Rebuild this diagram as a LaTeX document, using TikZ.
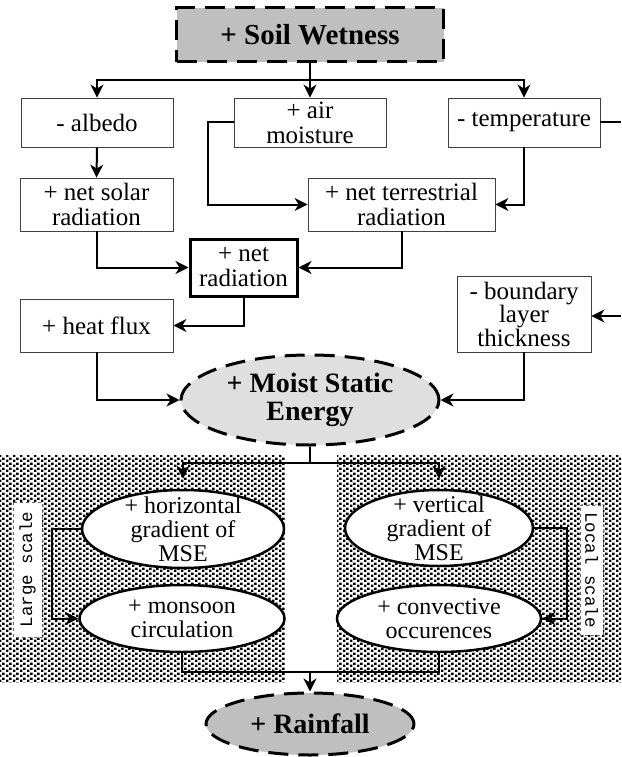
\documentclass[tikz,border=0pt]{standalone}
\usepackage{fontspec}
\setmainfont{Liberation Serif}
\setmonofont{Liberation Mono}
\usetikzlibrary{arrows.meta,patterns,shapes.geometric}
\pgfdeclarepatternformonly{halftone}{\pgfqpoint{0pt}{0pt}}{\pgfqpoint{7pt}{5pt}}{\pgfqpoint{7pt}{5pt}}{%
  \pgfpathrectangle{\pgfqpoint{0pt}{0pt}}{\pgfqpoint{2.8pt}{2.8pt}}%
  \pgfpathrectangle{\pgfqpoint{3.5pt}{2.5pt}}{\pgfqpoint{2.8pt}{2.8pt}}%
  \pgfusepath{fill}}
\begin{document}
\begin{tikzpicture}[x=1pt,y=-1pt,
  box/.style={draw=black!75, line width=0.8pt, fill=white, rectangle, inner sep=0pt, align=center, font=\fontsize{25}{25}\selectfont},
  thickbox/.style={box, draw=black, line width=3pt},
  oval/.style={ellipse, draw, line width=2.5pt, fill=white, inner sep=-14pt, align=center, font=\fontsize{24}{24}\selectfont},
  keybox/.style={rectangle, draw, line width=3pt, dash pattern=on 20pt off 10pt, fill=gray!50, inner sep=0pt, align=center, font=\bfseries\fontsize{29}{29}\selectfont},
  keyoval/.style={ellipse, draw, line width=3pt, dash pattern=on 20pt off 10pt, inner sep=-14pt, align=center, font=\bfseries\fontsize{28}{28}\selectfont},
  conn/.style={line width=2pt},
  arr/.style={conn, -{Stealth[length=13pt,width=13pt,inset=4pt]}},
  scalelbl/.style={draw=black!60, dashed, line width=0.5pt, fill=white, inner sep=0pt, font=\ttfamily\fontsize{17.5}{17.5}\selectfont}
]
\useasboundingbox (0,0) rectangle (621,757);
% dotted backgrounds
\fill[pattern=halftone] (0,455) rectangle (285,682);
\fill[pattern=halftone] (337,455) rectangle (621,682);

% nodes
\node[keybox, minimum width=267pt, minimum height=54pt] (soil) at (310,35) {+ Soil Wetness};
\node[box, minimum width=152pt, minimum height=49pt] (albedo) at (97,122.5) {- albedo};
\node[box, minimum width=152pt, minimum height=49pt] (air) at (310,122.5) {+ air\\moisture};
\node[box, minimum width=152pt, minimum height=49pt] (temp) at (524,122.5) {- temperature};
\node[box, minimum width=153pt, minimum height=53pt] (netsolar) at (96.5,204.5) {+ net solar\\radiation};
\node[box, minimum width=187pt, minimum height=53pt] (netterr) at (401.5,204.5) {+ net terrestrial\\radiation};
\node[thickbox, minimum width=107pt, minimum height=57pt] (netrad) at (243.5,267.5) {+ net\\radiation};
\node[box, minimum width=153pt, minimum height=53pt] (heat) at (96.5,325.5) {+ heat flux};
\node[box, minimum width=134pt, minimum height=76pt, font=\fontsize{25}{23.5}\selectfont] (boundary) at (524,314) {- boundary\\layer\\thickness};
\node[keyoval, fill=gray!25, minimum width=258pt, minimum height=90pt] (mse) at (310,400) {+ Moist Static\\Energy};
\node[oval, minimum width=202pt, minimum height=78pt] (hgrad) at (183,529) {+ horizontal\\gradient of\\MSE};
\node[oval, minimum width=188pt, minimum height=76pt] (vgrad) at (439,528) {+ vertical\\gradient of\\MSE};
\node[oval, minimum width=205pt, minimum height=67pt] (monsoon) at (182,618.5) {+ monsoon\\circulation};
\node[oval, minimum width=204pt, minimum height=67pt] (convect) at (439,618.5) {+ convective\\occurences};
\node[keyoval, fill=gray!50, minimum width=208pt, minimum height=62pt] (rain) at (310,724) {+ Rainfall};
\node[scalelbl, rotate=90, minimum width=135pt, minimum height=29pt] (large) at (27.5,569.5) {Large scale};
\node[scalelbl, rotate=-90, minimum width=130pt, minimum height=23pt] (local) at (591.5,570) {Local scale};

% connectors
\coordinate (j1) at (310,80);
\draw[conn] (soil.south) -- (j1);
\draw[arr] (j1) -- (air.north);
\draw[arr] (j1) -| (albedo.north);
\draw[arr] (j1) -| (temp.north);
\coordinate (te) at (621,122.5);
\draw[conn] (temp.east) -- (te);
\draw[arr] (albedo.south) -- (netsolar.north);
\draw[arr] (air.west) -- ++(-26,0) |- (netterr.west);
\draw[arr] (temp.south) |- (netterr.east);
\draw[arr] (netsolar.south) |- (netrad.west);
\draw[arr] (netterr.south) |- (netrad.east);
\draw[arr] (netrad.south) |- (heat.east);
\coordinate (be) at (621,316);
\draw[arr] (be) -- (be -| boundary.east);
\draw[arr] (heat.south) |- (mse.west);
\draw[arr] (boundary.south) |- (mse.east);
\coordinate (j2) at (310,463);
\draw[conn] (mse.south) -- (j2);
\draw[arr, shorten >=10pt] (j2) -| (hgrad.north);
\draw[arr, shorten >=10pt] (j2) -| (vgrad.north);
\draw[arr] (hgrad.west) -- ++(-29,0) |- (monsoon.west);
\draw[arr] (vgrad.east) -- ++(33,0) |- (convect.east);
\coordinate (j3) at (310,672);
\draw[conn] (monsoon.south) |- (j3) -| (convect.south);
\draw[arr] (j3) -- (rain.north);
\end{tikzpicture}
\end{document}
